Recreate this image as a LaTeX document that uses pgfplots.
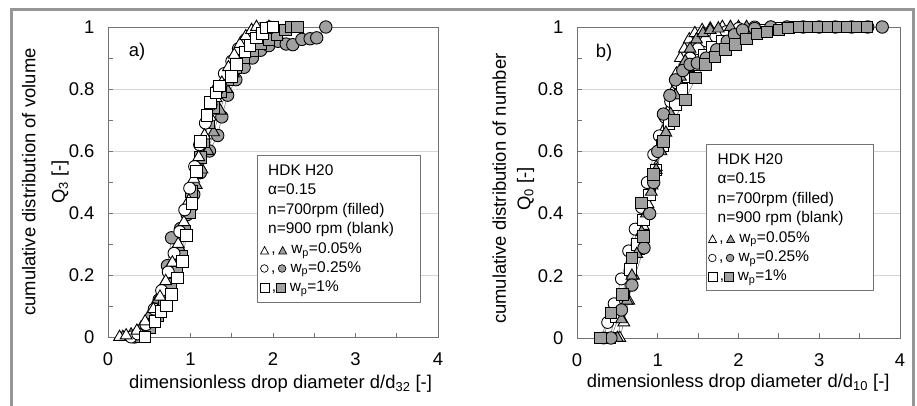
\documentclass[border=0pt]{standalone}
\usepackage{fontspec}
\setmainfont{Liberation Sans}
\usepackage{pgfplots}
\pgfplotsset{compat=1.18}
\definecolor{fillg}{RGB}{160,160,160}
\definecolor{framec}{RGB}{150,150,150}
\definecolor{gridc}{RGB}{212,212,212}
\definecolor{axc}{RGB}{115,115,115}
\definecolor{linec}{RGB}{130,130,130}
\newcommand{\fs}{\fontsize{18.5}{22}\selectfont}
\newcommand{\ls}{\fontsize{15.5}{19}\selectfont}
\newcommand{\otri}{\tikz[baseline=0]\draw[black,fill=white,line width=0.7bp] (0,0) -- (8bp,0) -- (4bp,7.5bp) -- cycle;}
\newcommand{\ftri}{\tikz[baseline=0]\draw[black,fill=fillg,line width=0.7bp] (0,0) -- (8bp,0) -- (4bp,7.5bp) -- cycle;}
\newcommand{\ocir}{\tikz[baseline=0]\draw[black,fill=white,line width=0.7bp] (4bp,4bp) circle (3.8bp);}
\newcommand{\fcir}{\tikz[baseline=0]\draw[black,fill=fillg,line width=0.7bp] (4bp,4bp) circle (3.8bp);}
\newcommand{\osq}{\tikz[baseline=0]\draw[black,fill=white,line width=0.7bp] (0,0) rectangle (8.5bp,8.5bp);}
\newcommand{\fsq}{\tikz[baseline=0]\draw[black,fill=fillg,line width=0.7bp] (0,0) rectangle (8.5bp,8.5bp);}
\pgfplotsset{
 myaxis/.style={
  scale only axis, xmin=0,xmax=4,ymin=0,ymax=1,
  xtick={0,1,2,3,4}, minor xtick={0.5,1.5,2.5,3.5},
  ytick={0,0.2,0.4,0.6,0.8,1}, minor ytick={0.1,0.3,0.5,0.7,0.9},
  xtick pos=bottom, ytick pos=left, tick align=inside,
  major tick length=4.5bp, minor tick length=4.5bp,
  ymajorgrids, grid style={gridc, line width=0.9bp},
  axis line style={axc, line width=0.9bp},
  every tick/.append style={axc, line width=0.9bp},
  tick label style={font=\fs},
  xticklabel style={yshift=-12bp},
  yticklabel style={xshift=-10bp},
  /pgf/number format/assume math mode=true,
  clip=false,
 },
 base/.style={draw=linec, line width=0.6bp},
 otri/.style={base, mark=triangle*, mark size=6.8bp, mark options={solid, draw=black, fill=white, line width=0.9bp}},
 ftri/.style={base, mark=triangle*, mark size=6.8bp, mark options={solid, draw=black, fill=fillg, line width=0.9bp}},
 ocir/.style={base, mark=*, mark size=6bp, mark options={solid, draw=black, fill=white, line width=0.9bp}},
 fcir/.style={base, mark=*, mark size=6.2bp, mark options={solid, draw=black, fill=fillg, line width=0.9bp}},
 osq/.style={base, mark=square*, mark size=5.8bp, mark options={solid, draw=black, fill=white, line width=0.9bp}},
 fsq/.style={base, mark=square*, mark size=5.8bp, mark options={solid, draw=black, fill=fillg, line width=0.9bp}},
}
\begin{document}
\begin{tikzpicture}
\useasboundingbox (0,0) rectangle (917bp,406bp);
\fill[white] (0,0) rectangle (917bp,406bp);
\draw[framec, line width=3bp] (11bp,0) -- (11bp,396bp) -- (913bp,396bp) -- (913bp,0);

% ---------------- panel a
\begin{axis}[myaxis, at={(108bp,69bp)}, anchor=south west, width=330bp, height=310bp,
  xlabel={dimensionless drop diameter d/d\textsubscript{32} [-]},
  xlabel style={font=\fs, at={(axis description cs:0.523,-0.165)}, anchor=base},
  ylabel={cumulative distribution of volume\\Q\textsubscript{3} [-]},
  ylabel style={font=\fontsize{18.5}{29.5}\selectfont, align=center, at={(axis description cs:-0.19,0.5)}, anchor=center, rotate=0},
]
% filled circles (700 rpm, 0.25%)
\addplot[fcir] coordinates {(0.32,0) (0.42,0.02) (0.52,0.06) (0.62,0.12) (0.72,0.23) (0.77,0.32) (0.88,0.35) (0.96,0.395) (1.04,0.46) (1.12,0.53) (1.23,0.60) (1.33,0.65) (1.38,0.71) (1.45,0.78) (1.55,0.83) (1.65,0.87) (1.75,0.90) (1.85,0.925) (1.95,0.94) (2.06,0.954) (2.16,0.945) (2.24,0.943) (2.35,0.96) (2.45,0.962) (2.53,0.965) (2.64,1.0)};
% filled triangles (700 rpm, 0.05%)
\addplot[ftri] coordinates {(0.18,0) (0.28,0.008) (0.40,0.03) (0.50,0.07) (0.60,0.12) (0.70,0.18) (0.78,0.24) (0.86,0.29) (0.93,0.36) (1.00,0.42) (1.07,0.49) (1.14,0.54) (1.21,0.60) (1.28,0.66) (1.36,0.73) (1.44,0.80) (1.52,0.85) (1.60,0.90) (1.68,0.94) (1.76,0.97) (1.85,0.99) (1.95,1.0)};
% filled squares (700 rpm, 1%)
\addplot[fsq] coordinates {(0.40,0) (0.50,0.03) (0.60,0.07) (0.68,0.12) (0.76,0.17) (0.83,0.21) (0.89,0.26) (0.93,0.34) (0.99,0.40) (1.01,0.47) (1.07,0.53) (1.12,0.58) (1.16,0.63) (1.22,0.69) (1.28,0.74) (1.36,0.79) (1.45,0.83) (1.55,0.87) (1.65,0.90) (1.75,0.925) (1.85,0.945) (1.95,0.96) (2.05,0.975) (2.15,0.99) (2.22,1.0) (2.30,1.0)};
% open circles (900 rpm, 0.25%)
\addplot[ocir] coordinates {(0.28,0) (0.36,0.01) (0.46,0.04) (0.56,0.09) (0.65,0.15) (0.73,0.21) (0.80,0.27) (0.87,0.34) (0.93,0.41) (0.99,0.48) (1.05,0.55) (1.11,0.62) (1.18,0.69) (1.25,0.75) (1.33,0.80) (1.41,0.85) (1.50,0.89) (1.58,0.93) (1.67,0.96) (1.76,0.98) (1.86,0.995) (1.96,1.0)};
% open triangles (900 rpm, 0.05%)
\addplot[otri] coordinates {(0.14,0) (0.22,0.005) (0.35,0.02) (0.45,0.05) (0.55,0.09) (0.63,0.13) (0.70,0.18) (0.78,0.24) (0.85,0.30) (0.92,0.37) (0.98,0.44) (1.04,0.51) (1.10,0.58) (1.17,0.65) (1.24,0.71) (1.31,0.77) (1.38,0.82) (1.46,0.87) (1.53,0.91) (1.60,0.945) (1.67,0.97) (1.74,0.99) (1.80,1.0)};
% open squares (900 rpm, 1%)
\addplot[osq] coordinates {(0.45,0) (0.57,0.05) (0.64,0.083) (0.71,0.10) (0.77,0.137) (0.84,0.19) (0.90,0.244) (0.95,0.327) (1.02,0.43) (1.07,0.534) (1.12,0.63) (1.20,0.715) (1.24,0.757) (1.31,0.787) (1.35,0.81) (1.50,0.84) (1.56,0.88) (1.66,0.92) (1.72,0.94) (1.80,0.965) (1.87,0.98) (1.92,0.997) (2.0,1.0)};
\end{axis}
\node[font=\fs, anchor=center] at (137bp,354bp) {a)};
\draw[axc, line width=0.9bp, fill=white] (257bp,104bp) rectangle (420bp,251bp);
\node[font=\ls, anchor=base west, inner sep=0] at (268bp,230.5bp) {HDK H20};
\node[font=\ls, anchor=base west, inner sep=0] at (268bp,211.5bp) {α=0.15};
\node[font=\ls, anchor=base west, inner sep=0] at (268bp,191bp) {n=700rpm (filled)};
\node[font=\ls, anchor=base west, inner sep=0] at (268bp,172bp) {n=900 rpm (blank)};
\node[font=\ls, anchor=base west, inner sep=0] at (260bp,152bp) {\otri\,,\,\ftri\ w\textsubscript{p}=0.05\%};
\node[font=\ls, anchor=base west, inner sep=0] at (260bp,133.5bp) {\ocir\,,\,\fcir\ w\textsubscript{p}=0.25\%};
\node[font=\ls, anchor=base west, inner sep=0] at (260bp,114bp) {\osq\,,\fsq\ w\textsubscript{p}=1\%};

% ---------------- panel b
\begin{axis}[myaxis, at={(577bp,68bp)}, anchor=south west, width=323bp, height=311bp,
  xlabel={dimensionless drop diameter d/d\textsubscript{10} [-]},
  xlabel style={font=\fs, at={(axis description cs:0.499,-0.159)}, anchor=base},
  ylabel={cumulative distribution of number\\Q\textsubscript{0} [-]},
  ylabel style={font=\fontsize{18.5}{24.6}\selectfont, align=center, at={(axis description cs:-0.197,0.48)}, anchor=center, rotate=0},
]
% open triangles
\addplot[otri] coordinates {(0.53,0) (0.58,0.05) (0.64,0.12) (0.70,0.20) (0.76,0.28) (0.82,0.36) (0.88,0.43) (0.93,0.49) (0.98,0.55) (1.03,0.61) (1.08,0.67) (1.13,0.73) (1.18,0.79) (1.23,0.85) (1.28,0.90) (1.33,0.93) (1.39,0.96) (1.46,0.98) (1.55,0.99) (1.65,0.995) (1.80,1.0) (2.0,1.0)};
% open circles
\addplot[ocir] coordinates {(0.33,0) (0.38,0.05) (0.46,0.11) (0.55,0.19) (0.64,0.28) (0.72,0.35) (0.80,0.42) (0.87,0.50) (0.95,0.59) (1.02,0.65) (1.09,0.71) (1.16,0.76) (1.24,0.82) (1.32,0.86) (1.40,0.90) (1.50,0.93) (1.60,0.955) (1.72,0.97) (1.85,0.985) (2.00,0.995) (2.20,1.0) (2.40,1.0)};
% open squares
\addplot[osq] coordinates {(0.40,0) (0.48,0.07) (0.58,0.14) (0.66,0.22) (0.74,0.30) (0.82,0.38) (0.90,0.46) (0.98,0.54) (1.06,0.62) (1.14,0.69) (1.22,0.75) (1.30,0.80) (1.38,0.84) (1.47,0.88) (1.57,0.91) (1.68,0.935) (1.80,0.955) (1.95,0.97) (2.10,0.98) (2.30,0.99) (2.50,0.995) (2.70,1.0)};
% filled triangles
\addplot[ftri] coordinates {(0.50,0) (0.55,0.06) (0.62,0.12) (0.68,0.20) (0.74,0.27) (0.80,0.34) (0.86,0.40) (0.92,0.47) (0.98,0.54) (1.04,0.60) (1.10,0.66) (1.16,0.72) (1.22,0.78) (1.28,0.84) (1.34,0.89) (1.40,0.93) (1.48,0.96) (1.56,0.98) (1.65,0.99) (1.75,0.995) (1.90,1.0) (2.10,1.0)};
% filled circles
\addplot[fcir] coordinates {(0.42,0) (0.55,0.09) (0.68,0.17) (0.83,0.29) (0.90,0.40) (0.95,0.50) (1.00,0.60) (1.07,0.72) (1.15,0.78) (1.22,0.83) (1.31,0.86) (1.40,0.88) (1.49,0.884) (1.60,0.90) (1.73,0.927) (1.86,0.954) (1.95,0.975) (2.05,0.99) (2.20,0.995) (2.40,1.0) (2.60,1.0) (2.80,1.0) (3.00,1.0) (3.20,1.0) (3.40,1.0) (3.60,1.0) (3.78,1.0)};
% filled squares
\addplot[fsq] coordinates {(0.29,0) (0.42,0.08) (0.56,0.14) (0.68,0.257) (0.80,0.434) (0.82,0.327) (0.95,0.525) (1.07,0.632) (1.20,0.70) (1.34,0.766) (1.47,0.836) (1.59,0.879) (1.71,0.904) (1.84,0.927) (1.96,0.943) (2.10,0.961) (2.23,0.977) (2.35,0.984) (2.50,0.991) (2.62,0.997) (2.75,1.0) (2.87,1.0) (2.99,1.0) (3.11,1.0) (3.23,1.0) (3.35,1.0) (3.47,1.0) (3.59,1.0)};
\end{axis}
\node[font=\fs, anchor=center] at (604bp,353bp) {b)};
\draw[axc, line width=0.9bp, fill=white] (706bp,116bp) rectangle (873bp,262bp);
\node[font=\ls, anchor=base west, inner sep=0] at (717.5bp,241bp) {HDK H20};
\node[font=\ls, anchor=base west, inner sep=0] at (717.5bp,222bp) {α=0.15};
\node[font=\ls, anchor=base west, inner sep=0] at (717.5bp,202.5bp) {n=700rpm (filled)};
\node[font=\ls, anchor=base west, inner sep=0] at (717.5bp,183.5bp) {n=900 rpm (blank)};
\node[font=\ls, anchor=base west, inner sep=0] at (708bp,163.5bp) {\otri\,,\,\ftri\ w\textsubscript{p}=0.05\%};
\node[font=\ls, anchor=base west, inner sep=0] at (708bp,144bp) {\ocir\,,\,\fcir\ w\textsubscript{p}=0.25\%};
\node[font=\ls, anchor=base west, inner sep=0] at (708bp,125bp) {\osq\,,\fsq\ w\textsubscript{p}=1\%};
\end{tikzpicture}
\end{document}
